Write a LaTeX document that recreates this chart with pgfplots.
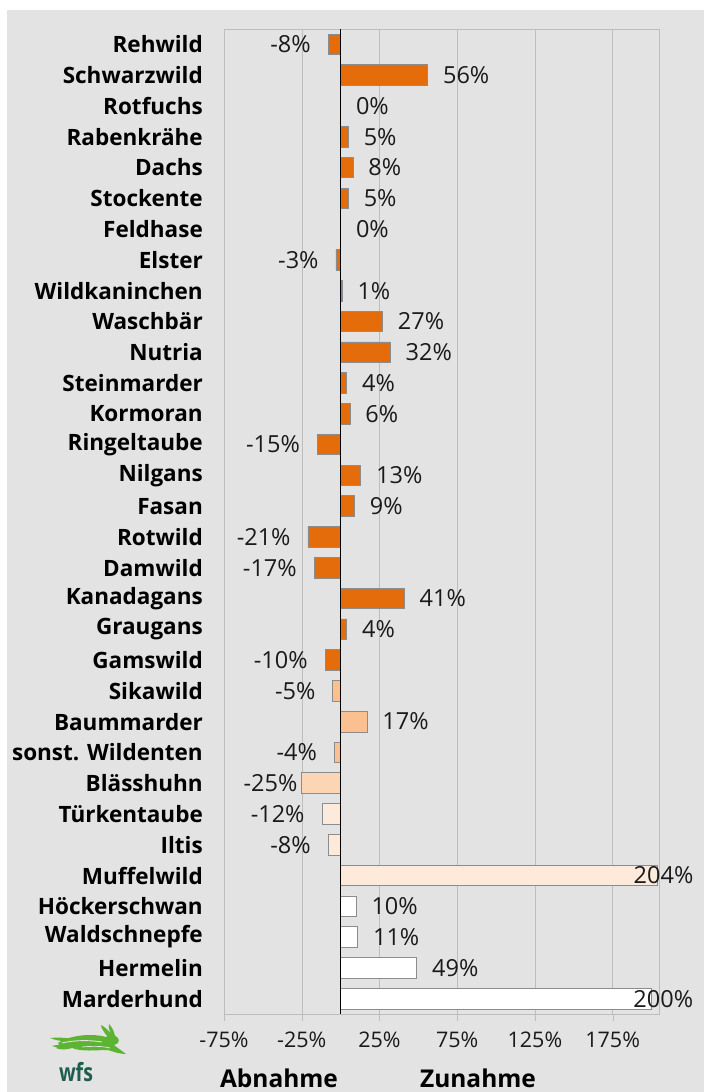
\documentclass[border=0pt]{standalone}
\usepackage{pgfplots}
\pgfplotsset{compat=1.18}
\usepackage{fontspec}
\setmainfont{Open Sans}

\definecolor{bgc}{HTML}{E3E3E3}
\definecolor{gridc}{HTML}{BDBDBD}
\definecolor{barline}{HTML}{8C8C8C}
\definecolor{dorange}{HTML}{E46C0A}
\definecolor{lorange}{HTML}{FAC090}
\definecolor{llorange}{HTML}{FCD5B5}
\definecolor{pale}{HTML}{FDEADA}
\definecolor{txt}{HTML}{1A1A1A}
\definecolor{hare}{HTML}{5CB432}
\definecolor{wfsc}{HTML}{1E5E4C}

\begin{document}
\begin{tikzpicture}[x=1pt,y=1pt]
\fill[white] (0,0) rectangle (709,-1092);
\fill[bgc] (7,-10) rectangle (704,-1092);
\useasboundingbox (0,0) rectangle (709,-1092);

\begin{axis}[
  at={(224pt,-29pt)}, anchor=north west,
  scale only axis, width=435.3pt, height=985pt,
  xmin=-75, xmax=205, ymin=-0.5, ymax=31.5,
  y dir=reverse, clip=false,
  axis line style={draw=gridc},
  xtick={-75,-25,25,75,125,175},
  xticklabel={\pgfmathprintnumber{\tick}\%},
  xtick pos=bottom, tick align=outside,
  major tick length=7pt,
  x tick style={draw=gridc},
  xmajorgrids, grid style={gridc},
  xticklabel style={font=\fontsize{21.5}{21.5}\selectfont, text=txt, yshift=-7pt},
  /pgf/number format/assume math mode=true,
  ytick={0,...,31},
  yticklabels={Rehwild,Schwarzwild,Rotfuchs,Rabenkrähe,Dachs,Stockente,Feldhase,Elster,Wildkaninchen,Waschbär,Nutria,Steinmarder,Kormoran,Ringeltaube,Nilgans,Fasan,Rotwild,Damwild,Kanadagans,Graugans,Gamswild,Sikawild,Baummarder,{sonst. Wildenten},Blässhuhn,Türkentaube,Iltis,Muffelwild,Höckerschwan,Waldschnepfe,Hermelin,Marderhund},
  y tick style={draw=none},
  yticklabel style={font=\bfseries\fontsize{22.5}{22.5}\selectfont, text=black, inner sep=0pt, xshift=-14pt},
  xbar, bar shift=0pt, bar width=0.67,
  every axis plot/.append style={draw=barline, line width=0.8pt},
  point meta=x,
  nodes near coords={\pgfmathprintnumber{\pgfplotspointmeta}\%},
  nodes near coords align=horizontal,
  every node near coord/.append style={font=\fontsize{23.5}{23.5}\selectfont, text=txt, inner sep=0pt, /pgf/number format/assume math mode=true},
]
% dunkelorange
\addplot[fill=dorange, nodes near coords style={xshift=15pt}] coordinates {
  (56,1) (0,2) (5,3) (8,4) (5,5) (0,6) (1,8) (27,9) (32,10) (4,11) (6,12)
  (13,14) (9,15) (41,18) (4,19)};
\addplot[fill=dorange, nodes near coords style={xshift=-17pt}] coordinates {
  (-8,0) (-3,7) (-15,13) (-21,16) (-17,17) (-10,20)};
% hellorange
\addplot[fill=lorange, nodes near coords style={xshift=15pt}] coordinates {(17,22)};
\addplot[fill=lorange, nodes near coords style={xshift=-17pt}] coordinates {(-5,21) (-4,23)};
\addplot[fill=llorange, nodes near coords style={xshift=-4pt}] coordinates {(-25,24)};
% blass
\addplot[fill=pale, nodes near coords style={xshift=-17pt}] coordinates {(-12,25) (-8,26)};
\addplot[fill=pale, nodes near coords style={anchor=east, xshift=36pt}] coordinates {(204,27)};
% weiss
\addplot[fill=white, nodes near coords style={xshift=15pt}] coordinates {(10,28) (11,29) (49,30)};
\addplot[fill=white, nodes near coords style={anchor=east, xshift=42pt}] coordinates {(200,31)};

\draw[black, line width=0.9pt] (axis cs:0,-0.5) -- (axis cs:0,31.5);
\end{axis}

\node[font=\bfseries\fontsize{24.5}{24.5}\selectfont] at (279,-1078) {Abnahme};
\node[font=\bfseries\fontsize{24.5}{24.5}\selectfont] at (478,-1078) {Zunahme};

% Logo (Hase + wfs)
\begin{scope}[shift={(52,-1028)}]
  % Hinterlaeufe
  \fill[hare] (-2,-10) .. controls (8,-9) and (18,-10) .. (24,-12)
    .. controls (18,-14) and (8,-14) .. (-2,-10) -- cycle;
  \fill[hare] (0,-18) .. controls (8,-16) and (16,-16) .. (22,-17)
    .. controls (16,-20) and (8,-21) .. (0,-18) -- cycle;
  % Koerper, Kopf, Vorderlaeufe
  \fill[hare] (6,-15) .. controls (18,-7) and (40,-5) .. (54,-9)
    .. controls (57,-6) and (63,-6) .. (66,-10)
    .. controls (68,-13) and (66,-16) .. (62,-17)
    .. controls (66,-20) and (70,-23) .. (74,-26)
    .. controls (68,-26) and (62,-24) .. (56,-22)
    .. controls (44,-22) and (30,-24) .. (20,-20)
    .. controls (14,-22) and (8,-22) .. (4,-20)
    .. controls (8,-18) and (8,-17) .. (6,-15) -- cycle;
  % Ohren
  \fill[hare] (55,-8) .. controls (52,-4) and (49,0) .. (49,3)
    .. controls (53,1) and (57,-3) .. (60,-7) -- cycle;
  \fill[hare] (59,-8) .. controls (58,-3) and (56,1) .. (57,4)
    .. controls (60,1) and (62,-3) .. (63,-8) -- cycle;
  % helle Streifen
  \draw[bgc, line width=0.9pt] (10,-15) .. controls (22,-12) and (38,-12) .. (50,-14);
  \draw[bgc, line width=0.7pt] (30,-19) .. controls (40,-18) and (50,-18) .. (58,-20);
\end{scope}
\node[font=\bfseries\fontsize{25}{25}\selectfont, text=wfsc, inner sep=0pt, xscale=0.78] at (76,-1072) {wfs};
\end{tikzpicture}
\end{document}
